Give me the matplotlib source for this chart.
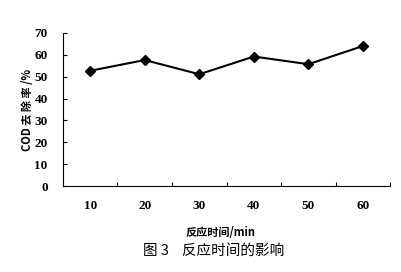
import matplotlib
matplotlib.use("Agg")
import matplotlib.pyplot as plt
import numpy as np

times = ["10", "20", "30", "40", "50", "60"]
removal = [52.7, 57.6, 51.1, 59.2, 55.7, 64.0]
yticks = [0, 10, 20, 30, 40, 50, 60, 70]

fig = plt.figure(figsize=(4.01, 2.72), dpi=100)
ax = fig.add_axes([0.157, 0.316, 0.816, 0.563])
x = np.arange(len(times))
ax.plot(x, removal, color="black", lw=1.5, marker="D", markersize=5)
ax.set_xlim(-0.5, len(times) - 0.5)
ax.set_ylim(0, 70)
ax.spines["top"].set_visible(False)
ax.spines["right"].set_visible(False)
for s in ("left", "bottom"):
    ax.spines[s].set_linewidth(0.8)

serif = {"family": "Liberation Serif", "weight": "bold", "size": 9.5}
ax.set_yticks(yticks)
ax.set_yticklabels([str(v) for v in yticks], fontdict=serif)
ax.tick_params(axis="y", direction="in", length=3, width=0.8, pad=11)
ax.set_xticks(x)
ax.set_xticklabels(times, fontdict=serif)
ax.tick_params(axis="x", which="major", length=0, pad=10)
ax.set_xticks(np.arange(0.5, len(times)), minor=True)
ax.tick_params(axis="x", which="minor", direction="in", length=3, width=0.8)

cjk = ["Noto Sans CJK SC", "DejaVu Sans"]
ax.set_ylabel("COD 去 除 率 /%", family=cjk, fontsize=8, fontweight="bold", labelpad=0)
fig.text(0.551, 1 - 233 / 272, "反应时间/min", family=cjk, fontsize=8,
         fontweight="bold", ha="center", va="center")
fig.text(0.533, 1 - 251 / 272, "图 3    反应时间的影响", family=cjk, fontsize=10.5,
         ha="center", va="center")
fig.savefig("out.png", dpi=100)
